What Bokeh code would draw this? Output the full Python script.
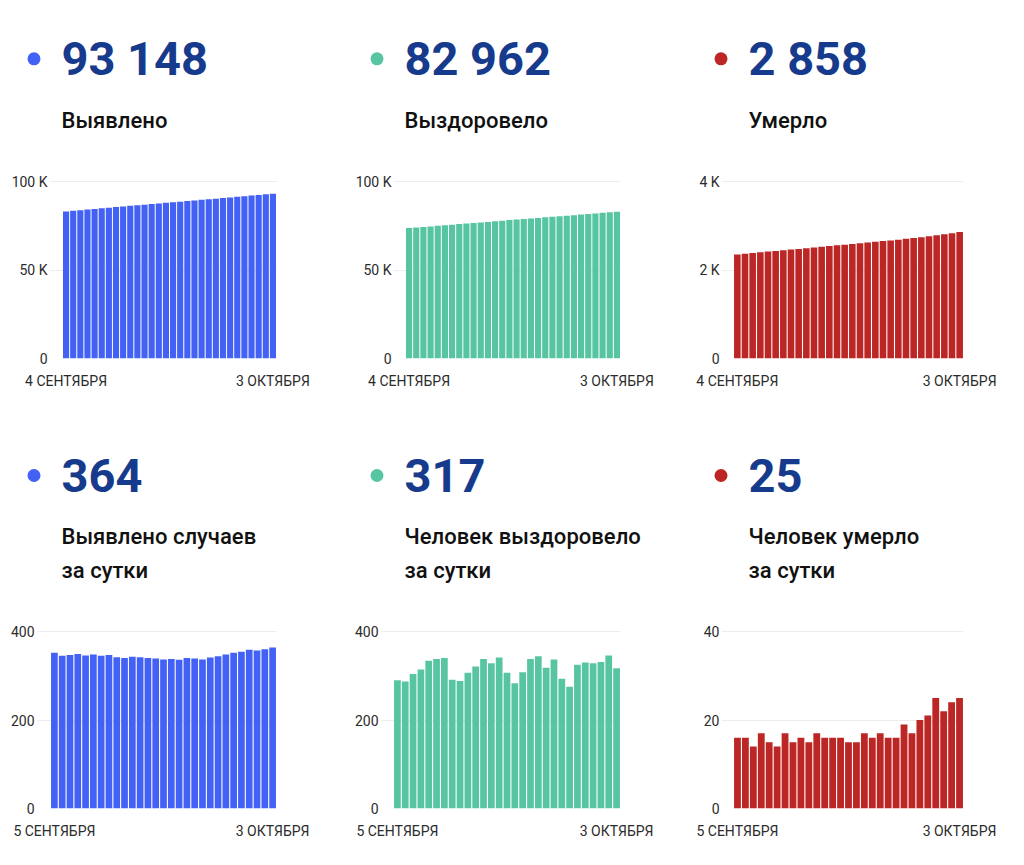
from bokeh.plotting import figure
from bokeh.layouts import row, column
from bokeh.models import Label, BoxAnnotation, FixedTicker, Range1d, ColumnDataSource
from bokeh.embed import file_html
from bokeh.resources import INLINE

# ---------------- data ----------------
days_total = ["4 СЕНТЯБРЯ", "5 СЕНТЯБРЯ", "6 СЕНТЯБРЯ", "7 СЕНТЯБРЯ", "8 СЕНТЯБРЯ",
              "9 СЕНТЯБРЯ", "10 СЕНТЯБРЯ", "11 СЕНТЯБРЯ", "12 СЕНТЯБРЯ", "13 СЕНТЯБРЯ",
              "14 СЕНТЯБРЯ", "15 СЕНТЯБРЯ", "16 СЕНТЯБРЯ", "17 СЕНТЯБРЯ", "18 СЕНТЯБРЯ",
              "19 СЕНТЯБРЯ", "20 СЕНТЯБРЯ", "21 СЕНТЯБРЯ", "22 СЕНТЯБРЯ", "23 СЕНТЯБРЯ",
              "24 СЕНТЯБРЯ", "25 СЕНТЯБРЯ", "26 СЕНТЯБРЯ", "27 СЕНТЯБРЯ", "28 СЕНТЯБРЯ",
              "29 СЕНТЯБРЯ", "30 СЕНТЯБРЯ", "1 ОКТЯБРЯ", "2 ОКТЯБРЯ", "3 ОКТЯБРЯ"]
days_daily = ["5 СЕНТЯБРЯ", "6 СЕНТЯБРЯ", "7 СЕНТЯБРЯ", "8 СЕНТЯБРЯ",
              "9 СЕНТЯБРЯ", "10 СЕНТЯБРЯ", "11 СЕНТЯБРЯ", "12 СЕНТЯБРЯ", "13 СЕНТЯБРЯ",
              "14 СЕНТЯБРЯ", "15 СЕНТЯБРЯ", "16 СЕНТЯБРЯ", "17 СЕНТЯБРЯ", "18 СЕНТЯБРЯ",
              "19 СЕНТЯБРЯ", "20 СЕНТЯБРЯ", "21 СЕНТЯБРЯ", "22 СЕНТЯБРЯ", "23 СЕНТЯБРЯ",
              "24 СЕНТЯБРЯ", "25 СЕНТЯБРЯ", "26 СЕНТЯБРЯ", "27 СЕНТЯБРЯ", "28 СЕНТЯБРЯ",
              "29 СЕНТЯБРЯ", "30 СЕНТЯБРЯ", "1 ОКТЯБРЯ", "2 ОКТЯБРЯ", "3 ОКТЯБРЯ"]

cases_total = [83117, 83469, 83814, 84161, 84510, 84856, 85204, 85549, 85896, 86238,
               86578, 86921, 87263, 87603, 87942, 88279, 88617, 88953, 89293, 89632,
               89969, 90310, 90654, 91002, 91354, 91708, 92067, 92424, 92784, 93148]
recovered_total = [73761, 74051, 74338, 74642, 74956, 75290, 75628, 75968, 76259, 76547,
                   76854, 77175, 77513, 77841, 78182, 78489, 78772, 79080, 79418, 79762,
                   80080, 80417, 80710, 80985, 81310, 81640, 81968, 82299, 82645, 82962]
deaths_total = [2353, 2369, 2385, 2399, 2416, 2431, 2445, 2462, 2477, 2493,
                2508, 2525, 2541, 2557, 2573, 2588, 2603, 2620, 2636, 2653,
                2669, 2685, 2704, 2721, 2741, 2762, 2787, 2809, 2833, 2858]

cases_daily = [352, 345, 347, 349, 346, 348, 345, 347, 342, 340,
               343, 342, 340, 339, 337, 338, 336, 340, 339, 337,
               341, 344, 348, 352, 354, 359, 357, 360, 364]
recovered_daily = [290, 287, 304, 314, 334, 338, 340, 291, 288, 307,
                   321, 338, 328, 341, 307, 283, 308, 338, 344, 318,
                   337, 293, 275, 325, 330, 328, 331, 346, 317]
deaths_daily = [16, 16, 14, 17, 15, 14, 17, 15, 16, 15,
                17, 16, 16, 16, 15, 15, 17, 16, 17, 16,
                16, 19, 17, 20, 21, 25, 22, 24, 25]

yticks_big = [0, 50000, 100000]
ylabels_big = ["0", "50 K", "100 K"]
yticks_deaths = [0, 2000, 4000]
ylabels_deaths = ["0", "2 K", "4 K"]
yticks_daily = [0, 200, 400]
ylabels_daily = ["0", "200", "400"]
yticks_ddaily = [0, 20, 40]
ylabels_ddaily = ["0", "20", "40"]

headline = ["93 148", "82 962", "2 858", "364", "317", "25"]
captions = [["Выявлено"], ["Выздоровело"], ["Умерло"],
            ["Выявлено случаев", "за сутки"], ["Человек выздоровело", "за сутки"],
            ["Человек умерло", "за сутки"]]

# ---------------- style / layout ----------------
BLUE = "#4361F5"
GREEN = "#58C5A2"
RED = "#BC2726"
NAVY = "#163A8C"
FONT = "Roboto"

col_x = [0, 344, 688]
col_w = [344, 344, 320]
# header figure top/bottom, chart figure bottom (page y)
row_box = [(0, 160, 432), (432, 600, 857)]
# grid top, zero line (page y)
row_geo = [(181, 358), (631, 808)]
# header: dot center y, number anchor y, caption anchor ys
row_head = [(58.3, 57.5, [119.5]), (475, 474.5, [536, 570])]
# per column: dot center x, text x
col_head = [(33.5, 61), (376.5, 404), (720.5, 748)]
# per panel: label right, frame left, bar left, bar right, frame right (page x)
geoms = [
    [(47, 49, 62, 276, 277), (391, 393, 405, 620, 620), (719, 721, 733, 963, 963)],
    [(34, 37, 50, 276, 276), (378, 381, 393, 620, 620), (719, 721, 733, 963, 963)],
]


def make_header(r, c, color, big, lines):
    ox, w = col_x[c], col_w[c]
    top, bottom, _ = row_box[r]
    p = figure(width=w, height=bottom - top, x_range=Range1d(0, 1), y_range=Range1d(0, 1),
               output_backend="svg", toolbar_location=None, tools="",
               x_axis_location=None, y_axis_location=None,
               min_border_left=0, min_border_right=0, min_border_top=0, min_border_bottom=0)
    p.outline_line_color = None
    p.grid.visible = False
    p.background_fill_color = "white"
    p.border_fill_color = "white"

    dot_y, num_base, cap_bases = row_head[r]
    dot_x, text_x = col_head[c]
    rad = 6.5
    p.add_layout(BoxAnnotation(left=dot_x - rad - ox, right=dot_x + rad - ox,
                               bottom=bottom - (dot_y + rad), top=bottom - (dot_y - rad),
                               left_units="screen", right_units="screen",
                               bottom_units="screen", top_units="screen",
                               fill_color=color, fill_alpha=1.0, line_color=None,
                               border_radius=7))
    p.add_layout(Label(x=text_x - ox, y=bottom - num_base, x_units="screen", y_units="screen",
                       text=big, text_font=FONT, text_font_size="47px", text_font_style="bold",
                       text_color=NAVY, text_baseline="alphabetic", text_align="left"))
    for line, base in zip(lines, cap_bases):
        p.add_layout(Label(x=text_x - ox, y=bottom - base, x_units="screen", y_units="screen",
                           text=line, text_font="Roboto Medium", text_font_size="22px",
                           text_color="#111111", text_baseline="alphabetic", text_align="left"))
    return p


def make_chart(r, c, days, values, color, yticks, ylabels):
    lab_r, f_l, b_l, b_r, f_r = geoms[r][c]
    ox, w = col_x[c], col_w[c]
    _, top, bottom = row_box[r]
    grid_top, zero = row_geo[r]
    frame_top = grid_top - 3
    n = len(values)
    unit = (b_r - b_l) / n
    x0 = -0.5 - (b_l - f_l) / unit
    x1 = n - 0.5 + (f_r - b_r) / unit
    ymax = yticks[-1]
    y1 = ymax * (zero - frame_top) / (zero - grid_top)

    p = figure(width=w, height=bottom - top, x_range=Range1d(x0, x1), y_range=Range1d(0, y1),
               output_backend="svg", toolbar_location=None, tools="",
               min_border_left=f_l - ox, min_border_right=ox + w - f_r,
               min_border_top=frame_top - top, min_border_bottom=bottom - zero)
    p.outline_line_color = None
    p.background_fill_color = "white"
    p.border_fill_color = "white"

    src = ColumnDataSource(dict(x=list(range(n)), top=values, day=days))
    p.vbar(x="x", top="top", width=0.86, source=src, fill_color=color, line_color=None)

    p.xgrid.visible = False
    p.ygrid.grid_line_color = "#EDEDED"
    p.ygrid.grid_line_width = 1

    ya = p.yaxis[0]
    ya.ticker = FixedTicker(ticks=yticks)
    ya.major_label_overrides = {t: l for t, l in zip(yticks, ylabels)}
    ya.major_label_standoff = f_l - lab_r
    ya.major_tick_out = 0
    ya.major_tick_in = 0
    ya.axis_line_color = None
    ya.major_tick_line_color = None
    ya.minor_tick_line_color = None
    ya.major_label_text_font = FONT
    ya.major_label_text_font_size = "14px"
    ya.major_label_text_color = "#2B2B2B"

    xa = p.xaxis[0]
    xa.ticker = FixedTicker(ticks=[0, n - 1])
    xa.major_label_overrides = {0: days[0], n - 1: days[-1]}
    xa.major_label_standoff = 14
    xa.major_tick_out = 0
    xa.major_tick_in = 0
    xa.axis_line_color = None
    xa.major_tick_line_color = None
    xa.minor_tick_line_color = None
    xa.major_label_text_font = FONT
    xa.major_label_text_font_size = "14px"
    xa.major_label_text_color = "#2B2B2B"
    return p


specs = [
    (0, 0, days_total, cases_total, BLUE, yticks_big, ylabels_big),
    (0, 1, days_total, recovered_total, GREEN, yticks_big, ylabels_big),
    (0, 2, days_total, deaths_total, RED, yticks_deaths, ylabels_deaths),
    (1, 0, days_daily, cases_daily, BLUE, yticks_daily, ylabels_daily),
    (1, 1, days_daily, recovered_daily, GREEN, yticks_daily, ylabels_daily),
    (1, 2, days_daily, deaths_daily, RED, yticks_ddaily, ylabels_ddaily),
]

rows = []
for r in range(2):
    heads, charts = [], []
    for k in range(3):
        i = r * 3 + k
        rr, c, days, vals, color, yt, yl = specs[i]
        heads.append(make_header(rr, c, color, headline[i], captions[i]))
        charts.append(make_chart(rr, c, days, vals, color, yt, yl))
    rows.append(row(*heads, spacing=0))
    rows.append(row(*charts, spacing=0))

layout = column(*rows, spacing=0)
open("out.html", "w").write(file_html(layout, INLINE))
